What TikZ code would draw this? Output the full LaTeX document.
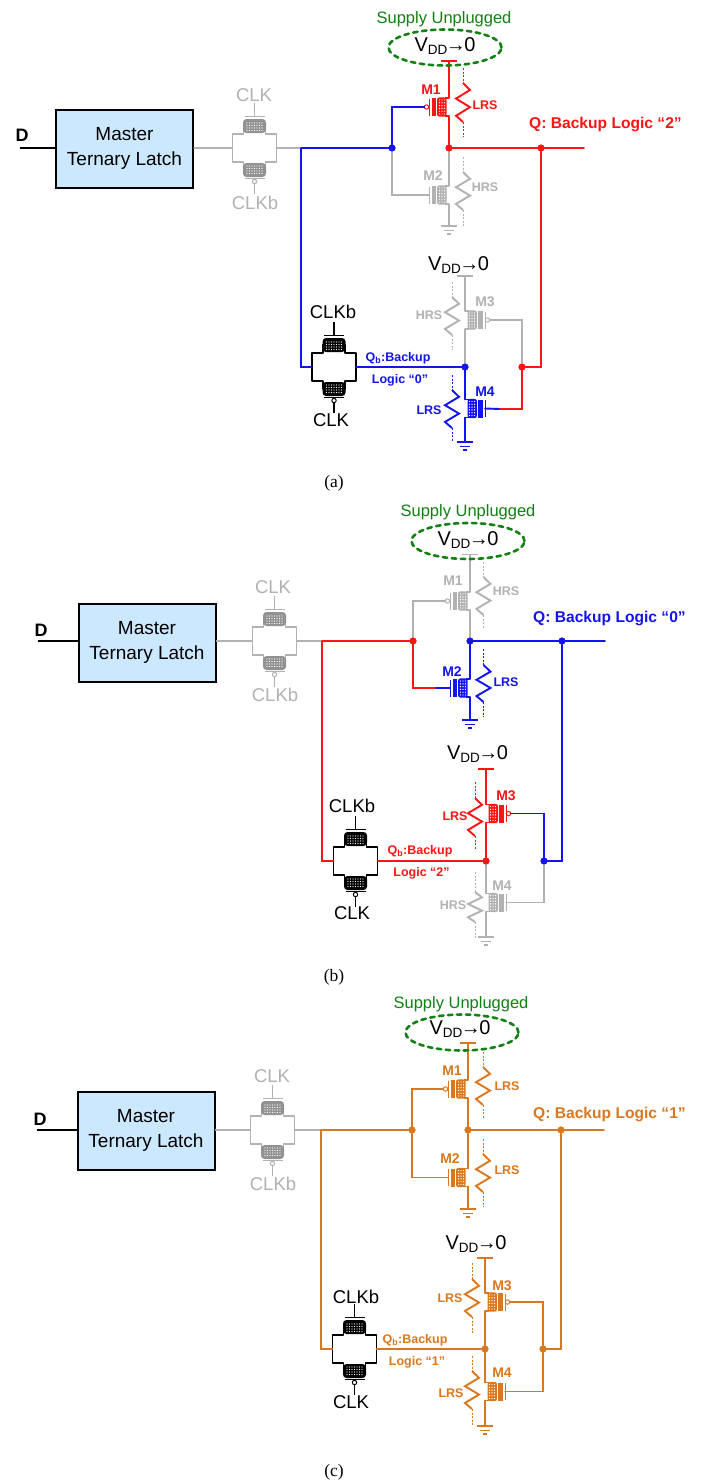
\documentclass[tikz,border=0pt]{standalone}
\usepackage{fontspec}
\setmainfont{Liberation Sans}
\newfontfamily\capfont{Liberation Serif}
\definecolor{cr}{HTML}{FF1414}
\definecolor{cb}{HTML}{1414F0}
\definecolor{cg}{HTML}{B2B2B2}
\definecolor{co}{HTML}{D9781E}
\definecolor{cv}{HTML}{128012}
\definecolor{cl}{HTML}{CCE8FF}
\newcommand{\fsz}[1]{\fontsize{#1}{#1}\selectfont}
\usetikzlibrary{shapes.geometric}
\tikzset{
  wire/.style={line width=1.9pt,draw=#1,line cap=round},
  gw/.style={line width=1.5pt,draw=cg,line cap=round},
  ow/.style={line width=1.7pt,draw=co,line cap=round},
  master/.style={draw=black,line width=2pt,fill=cl,minimum width=137pt,minimum height=78pt,align=center,font=\fsz{19},inner sep=0pt},
  jdot/.style={circle,fill=#1,inner sep=0pt,minimum size=7pt},
  dlab/.style={font=\fsz{18}\bfseries,inner sep=0pt},
  clab/.style={font=\fsz{18.5},text=#1,inner sep=0pt},
  vlab/.style={font=\fsz{20},inner sep=0pt},
  splab/.style={font=\fsz{16.5},text=cv,inner sep=0pt},
  mlab/.style={font=\fsz{14}\bfseries,text=#1,inner sep=0pt},
  rlab/.style={font=\fsz{12.5}\bfseries,text=#1,inner sep=0pt},
  qlab/.style={font=\fsz{15.6}\bfseries,text=#1,inner sep=0pt,anchor=west},
  caplab/.style={font=\capfont\fsz{17.5},inner sep=0pt},
  supply/.style={draw=cv,line width=2.6pt,dash pattern=on 4.5pt off 4.5pt,line cap=round,ellipse,minimum width=113pt,minimum height=36pt,inner sep=0pt}
}
\newcommand{\VZ}{V{\fsz{13.5}\raisebox{-3.5pt}{DD}}\kern-1.5pt→\kern-1.5pt0}
\newcommand{\tgate}[4]{\begin{scope}[shift={(#2,#3)}]
  \coordinate (#1-l) at (-22,0); \coordinate (#1-r) at (22,0);
  \draw[line width=1.7pt,draw=#4,line join=round] (-22,-14)--(-11,-14)--(-11,-22)--(11,-22)--(11,-14)--(22,-14)--(22,14)--(11,14)--(11,22)--(-11,22)--(-11,14)--(-22,14)--cycle;
  \fill[#4!82!black,rounded corners=3.5pt] (-11.5,-29) rectangle (11.5,-15);
  \fill[#4!82!black,rounded corners=3.5pt] (-11.5,15) rectangle (11.5,29);
  \foreach \i in {-7.5,-5,...,7.6}{\foreach \j in {-25,-22.5,-20,-17.5,18,20.5,23,25.5}{\fill[white] (\i,\j) circle (0.62);}}
  \draw[line width=1.1pt,draw=#4] (-10,-31.5)--(10,-31.5);
  \draw[line width=1.2pt,draw=#4] (0,-31.5)--(0,-45);
  \draw[line width=1.1pt,draw=#4] (-10,30.5)--(10,30.5);
  \draw[line width=1pt,draw=#4,fill=white] (0,33.5) circle (2.2);
  \draw[line width=1.2pt,draw=#4] (0,35.7)--(0,46);
\end{scope}}
\newcommand{\mos}[6]{\begin{scope}[shift={(#2,#3)},xscale=-1*#4]
  \coordinate (#1-t) at (0,-9); \coordinate (#1-b) at (0,9);
  \ifnum#5=1 \coordinate (#1-g) at (-24.5,0);\else \coordinate (#1-g) at (-20,0);\fi
  \draw[line width=1pt,draw=#6] (-20,-8.5)--(-20,8.5);
  \ifnum#5=1 \draw[line width=1pt,draw=#6,fill=white] (-22.5,0) circle (2.2);\fi
  \fill[#6] (-17.5,-9) rectangle (-13,9);
  \draw[line width=1.4pt,draw=#6] (0,-9)--(-4,-9) (0,9)--(-4,9);
  \fill[#6,rounded corners=2.5pt] (-12,-9.7) rectangle (-2.5,9.7);
  \foreach \i in {-9.5,-7,-4.5}{\foreach \j in {-7,-4.2,-1.4,1.4,4.2,7}{\fill[white] (\i,\j) circle (0.7);}}
\end{scope}}
\newcommand{\res}[6]{
  \draw[line width=1pt,draw=#6,dash pattern=on 2pt off 1.6pt] (#1,#2)--(#1,#3) (#1,#4)--(#1,#5);
  \pgfmathsetmacro{\zd}{#4-#3}
  \draw[line width=1.9pt,draw=#6,line join=miter] (#1,#3)--++(7,0.18*\zd)--++(-14,0.22*\zd)--++(14,0.22*\zd)--++(-14,0.22*\zd)--++(7,0.16*\zd);}
\newcommand{\gnd}[4]{\coordinate (#1) at (#2,#3);
  \draw[line width=1.5pt,draw=#4] (#2-8,#3)--(#2+8,#3) (#2-5,#3+4.5)--(#2+5,#3+4.5) (#2-2,#3+8)--(#2+2,#3+8);}
\newcommand{\vbar}[4]{\coordinate (#1) at (#2,#3);
  \draw[line width=1.7pt,draw=#4] (#2-8,#3)--(#2+8,#3);}
\begin{document}
\begin{tikzpicture}[x=1pt,y=-1pt]
\useasboundingbox (0,0) rectangle (702,1483);
\fill[white] (0,0) rectangle (702,1483);
%%%%%%%%%%%%%%%%%%%%%%%%%% panel a
\node[splab] (asup) at (444,19) {Supply Unplugged};
\node[master] (boxa) at (124.5,148.5) {Master\\[6pt]Ternary Latch};
\coordinate (inA) at (20,148);
\draw[line width=1.1pt] (inA)--(inA -| boxa.west);
\node[dlab] (Da) at (22,135) {D};
\tgate{atg}{254.5}{148}{cg}
\node[clab=cg] (aclk) at (254,95) {CLK};
\node[clab=cg] (aclkb) at (255,203) {CLKb};
\tgate{atb}{334}{367}{black}
\node[clab=black] (aclkb2) at (333,312) {CLKb};
\node[clab=black] (aclk2) at (331,420) {CLK};
\coordinate (aL) at (301,148);
\coordinate (aQe) at (584,148);
\coordinate (aRt) at (541,367);
\coordinate (ast) at (500,409);
\vbar{av1}{449}{61}{cr}
\vbar{av3}{465}{276}{cg}
\gnd{ag2}{449}{226}{cg}
\gnd{ag4}{465}{442}{cb}
\mos{am1}{449}{107}{-1}{1}{cr}
\mos{am2}{449}{195}{-1}{0}{cg}
\mos{am3}{465}{320}{1}{1}{cg}
\mos{am4}{465}{408.5}{1}{0}{cb}
\res{463}{68}{83}{122}{137}{cr}
\res{463}{157}{172}{210}{226}{cg}
\res{452}{282}{297}{335}{350}{cg}
\res{452}{375}{390}{428}{442}{cb}
\node[jdot=cb] (aG) at (392,148) {};
\node[jdot=cr] (aDr) at (449,148) {};
\node[jdot=cr] (aQ) at (541,148) {};
\node[jdot=cb] (aB) at (465,367) {};
\node[jdot=cr] (aS) at (522,367) {};
\draw[gw] (boxa.east |- atg-l)--(atg-l) (atg-r)--(aL);
\draw[gw] (aG.center)|-(am2-g);
\draw[gw] (aDr.center)--(am2-t) (am2-b)--(ag2);
\draw[gw] (av3)--(am3-t) (am3-b)--(aB.center);
\draw[gw] (am3-g)-|(aS.center);
\draw[wire=cb] (aL)--(aG.center) (aL)|-(atb-l) (atb-r)--(aB.center);
\draw[wire=cb] (aG.center)|-(am1-g);
\draw[wire=cb] (aB.center)--(am4-t) (am4-b)--(ag4) (am4-g)--(ast);
\draw[wire=cr] (ast)-|(aS.center) (aS.center)--(aRt)--(aQ.center);
\draw[wire=cr] (av1)--(am1-t) (am1-b)--(aDr.center);
\draw[wire=cr] (aDr.center)--(aQe);
\node[jdot=cb] at (aG) {};\node[jdot=cr] at (aDr) {};\node[jdot=cr] at (aQ) {};\node[jdot=cb] at (aB) {};\node[jdot=cr] at (aS) {};
\node[supply] (aell) at (445,47.5) {};
\node[vlab] (avz) at (445,46) {\VZ};
\node[vlab] (avz2) at (458.5,265) {\VZ};
\node[mlab=cr] at (431,90) {M1};
\node[mlab=cg] at (433,176) {M2};
\node[mlab=cg] at (485,302) {M3};
\node[mlab=cb] at (485,392) {M4};
\node[rlab=cr] at (485,105) {LRS};
\node[rlab=cg] at (485,187) {HRS};
\node[rlab=cg] at (429,315) {HRS};
\node[rlab=cb] at (429,410) {LRS};
\node[qlab=cr] at (529,124) {Q: Backup Logic “2”};
\node[rlab=cb] at (398,358) {Q\textsubscript{b}:Backup};
\node[rlab=cb] at (400,380) {Logic “0”};
\node[caplab] at (334,483) {(a)};
%%%%%%%%%%%%%%%%%%%%%%%%%% panel b
\node[splab] (bsup) at (468,512) {Supply Unplugged};
\node[master] (boxb) at (147,642.5) {Master\\[6pt]Ternary Latch};
\coordinate (inB) at (38,641);
\draw[line width=1.1pt] (inB)--(inB -| boxb.west);
\node[dlab] (Db) at (41,630) {D};
\tgate{btg}{274.5}{641}{cg}
\node[clab=cg] at (273,587) {CLK};
\node[clab=cg] at (275,695) {CLKb};
\tgate{btb}{355.5}{861}{black}
\node[clab=black] at (352,806) {CLKb};
\node[clab=black] at (352,913) {CLK};
\coordinate (bL) at (322,641);
\coordinate (bQe) at (605,641);
\coordinate (bRt) at (562,861);
\coordinate (bst) at (436,688);
\vbar{bv1}{470}{554.5}{cg}
\vbar{bv3}{486}{769}{cr}
\gnd{bg2}{470}{720}{cb}
\gnd{bg4}{486}{937}{cg}
\mos{bm1}{470}{601}{-1}{1}{cg}
\mos{bm2}{470}{688}{-1}{0}{cb}
\mos{bm3}{486}{813.5}{1}{1}{cr}
\mos{bm4}{486}{902.5}{1}{0}{cg}
\res{483.5}{562}{577}{615}{629}{cg}
\res{483.5}{649}{665}{702}{717}{cb}
\res{475}{782}{798}{836}{850}{cr}
\res{475}{872}{892}{922}{939}{cg}
\node[jdot=cr] (bG) at (413,641) {};
\node[jdot=cb] (bDr) at (470,641) {};
\node[jdot=cb] (bQ) at (562,641) {};
\node[jdot=cr] (bB) at (486,861) {};
\node[jdot=cb] (bS) at (544,861) {};
\draw[gw] (boxb.east |- btg-l)--(btg-l) (btg-r)--(bL);
\draw[gw] (bG.center)|-(bm1-g);
\draw[gw] (bv1)--(bm1-t) (bm1-b)--(bDr.center);
\draw[gw] (bB.center)--(bm4-t) (bm4-b)--(bg4);
\draw[gw] (bm4-g)-|(bS.center);
\draw[wire=cr] (bL)--(bG.center) (bL)|-(btb-l) (btb-r)--(bB.center);
\draw[wire=cr] (bG.center)|-(bst);
\draw[wire=cb] (bst)--(bm2-g);
\draw[wire=cb] (bDr.center)--(bm2-t) (bm2-b)--(bg2) (bDr.center)--(bQe);
\draw[wire=cr] (bv3)--(bm3-t) (bm3-b)--(bB.center);
\draw[wire=cb] (bm3-g)-|(bS.center) (bS.center)--(bRt)--(bQ.center);
\node[jdot=cr] at (bG) {};\node[jdot=cb] at (bDr) {};\node[jdot=cb] at (bQ) {};\node[jdot=cr] at (bB) {};\node[jdot=cb] at (bS) {};
\node[supply] (bell) at (468,541) {};
\node[vlab] at (468,540) {\VZ};
\node[vlab] at (477.5,754) {\VZ};
\node[mlab=cg] at (453,581) {M1};
\node[mlab=cb] at (452,672) {M2};
\node[mlab=cr] at (506,796) {M3};
\node[mlab=cg] at (502,886) {M4};
\node[rlab=cg] at (506,591) {HRS};
\node[rlab=cb] at (506,682) {LRS};
\node[rlab=cr] at (455,816) {LRS};
\node[rlab=cg] at (453,905) {HRS};
\node[qlab=cb] at (533,618) {Q: Backup Logic “0”};
\node[rlab=cr] at (420,851) {Q\textsubscript{b}:Backup};
\node[rlab=cr] at (421.5,873) {Logic “2”};
\node[caplab] at (334,977) {(b)};
%%%%%%%%%%%%%%%%%%%%%%%%%% panel c
\node[splab] (csup) at (461,1004) {Supply Unplugged};
\node[master] (boxc) at (146,1130.5) {Master\\[6pt]Ternary Latch};
\coordinate (inC) at (37,1130);
\draw[line width=1.1pt] (inC)--(inC -| boxc.west);
\node[dlab] (Dc) at (40,1119) {D};
\tgate{ctg}{272.5}{1130}{cg}
\node[clab=cg] at (272,1076) {CLK};
\node[clab=cg] at (273,1184) {CLKb};
\tgate{ctb}{354.5}{1349}{black}
\node[clab=black] at (356,1297) {CLKb};
\node[clab=black] at (351,1402) {CLK};
\coordinate (cL) at (321,1130);
\coordinate (cQe) at (604,1130);
\coordinate (cRt) at (561,1349);
\vbar{cv1}{468}{1043}{co}
\vbar{cv3}{485}{1258}{co}
\gnd{cg2}{468}{1209}{co}
\gnd{cg4}{485}{1426}{co}
\mos{cm1}{468}{1089}{-1}{1}{co}
\mos{cm2}{468}{1177.5}{-1}{0}{co}
\mos{cm3}{485}{1302}{1}{1}{co}
\mos{cm4}{485}{1391.5}{1}{0}{co}
\res{483}{1052}{1067}{1105}{1119}{co}
\res{483}{1139}{1154}{1192}{1207}{co}
\res{472}{1263}{1279}{1317}{1333}{co}
\res{472}{1356}{1371}{1409}{1425}{co}
\node[jdot=co] (cG) at (412,1130) {};
\node[jdot=co] (cDr) at (468,1130) {};
\node[jdot=co] (cQ) at (561,1130) {};
\node[jdot=co] (cB) at (485,1349) {};
\node[jdot=co] (cS) at (543,1349) {};
\draw[gw] (boxc.east |- ctg-l)--(ctg-l) (ctg-r)--(cL);
\draw[ow] (cL)--(cG.center) (cL)|-(ctb-l) (ctb-r)--(cB.center);
\draw[ow] (cm1-g)-|(cG.center) (cG.center)|-(cm2-g);
\draw[ow] (cv1)--(cm1-t) (cm1-b)--(cDr.center)--(cm2-t) (cm2-b)--(cg2) (cDr.center)--(cQe);
\draw[ow] (cv3)--(cm3-t) (cm3-b)--(cB.center)--(cm4-t) (cm4-b)--(cg4);
\draw[ow] (cm3-g)-|(cS.center) (cm4-g)-|(cS.center) (cS.center)--(cRt)--(cQ.center);
\node[jdot=co] at (cG) {};\node[jdot=co] at (cDr) {};\node[jdot=co] at (cQ) {};\node[jdot=co] at (cB) {};\node[jdot=co] at (cS) {};
\node[supply] (cell) at (462,1032.5) {};
\node[vlab] at (460,1029) {\VZ};
\node[vlab] at (476,1244) {\VZ};
\node[mlab=co] at (452,1071) {M1};
\node[mlab=co] at (450,1159) {M2};
\node[mlab=co] at (502,1286) {M3};
\node[mlab=co] at (502,1373) {M4};
\node[rlab=co] at (507,1086) {LRS};
\node[rlab=co] at (507,1170) {LRS};
\node[rlab=co] at (450,1298) {LRS};
\node[rlab=co] at (451,1393) {LRS};
\node[qlab=co] at (533,1114) {Q: Backup Logic “1”};
\node[rlab=co] at (415,1340) {Q\textsubscript{b}:Backup};
\node[rlab=co] at (417,1362) {Logic “1”};
\node[caplab] at (334,1472) {(c)};
\end{tikzpicture}
\end{document}
